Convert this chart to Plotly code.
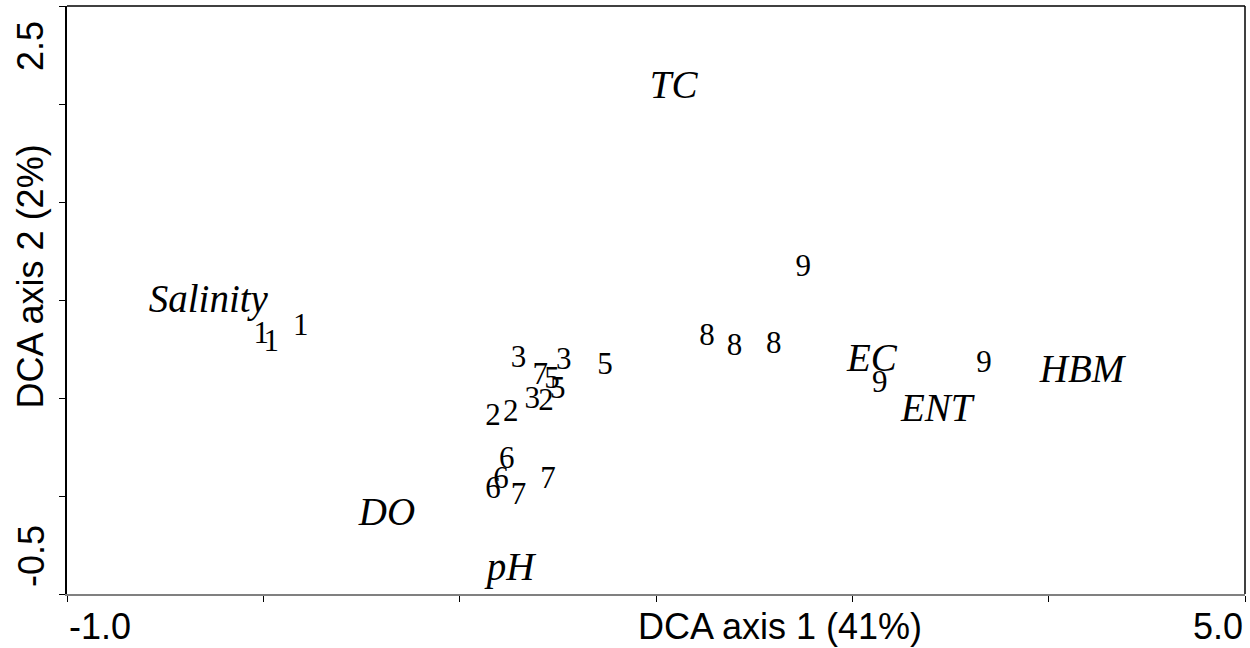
import plotly.graph_objects as go

# Sample scores (site number shown as the marker label)
sample_labels = ["1", "1", "1",
                 "2", "2", "2",
                 "3", "3", "3",
                 "5", "5", "5",
                 "6", "6", "6",
                 "7", "7", "7",
                 "8", "8", "8",
                 "9", "9", "9"]
sample_x = [-0.01, 0.04, 0.19,
            1.17, 1.26, 1.44,
            1.30, 1.53, 1.37,
            1.74, 1.47, 1.50,
            1.24, 1.21, 1.17,
            1.41, 1.45, 1.30,
            2.26, 2.40, 2.60,
            2.75, 3.14, 3.67]
sample_y = [0.82, 0.78, 0.86,
            0.40, 0.42, 0.48,
            0.70, 0.69, 0.49,
            0.66, 0.59, 0.54,
            0.18, 0.08, 0.03,
            0.61, 0.08, 0.00,
            0.81, 0.76, 0.77,
            1.16, 0.57, 0.67]

# Environmental / bacterial variables
var_labels = ["TC", "Salinity", "EC", "ENT", "HBM", "DO", "pH"]
var_x = [2.09, -0.28, 3.10, 3.43, 4.17, 0.63, 1.26]
var_y = [2.08, 0.99, 0.69, 0.43, 0.63, -0.10, -0.38]

x_range = [-1.0, 5.0]
y_range = [-0.5, 2.5]
x_ticks = [-1, 0, 1, 2, 3, 4, 5]
y_ticks = [-0.5, 0.0, 0.5, 1.0, 1.5, 2.0, 2.5]
x_title = "DCA axis 1 (41%)"
y_title = "DCA axis 2 (2%)"

serif = "Liberation Serif, Times New Roman, serif"
sans = "Liberation Sans, Arial, sans-serif"

fig = go.Figure()
fig.add_trace(go.Scatter(
    x=sample_x, y=sample_y, text=sample_labels, mode="text",
    textposition="middle center",
    textfont=dict(family=serif, size=31, color="black"),
    hoverinfo="skip", showlegend=False,
))
fig.add_trace(go.Scatter(
    x=var_x, y=var_y, text=var_labels, mode="text",
    textposition="middle center",
    textfont=dict(family=serif, size=39, color="black", style="italic"),
    hoverinfo="skip", showlegend=False,
))

fig.update_xaxes(
    range=x_range, tickvals=x_ticks, showticklabels=False,
    ticks="outside", ticklen=6, tickwidth=1, tickcolor="black",
    showline=True, linecolor="#808080", linewidth=2,
    showgrid=False, zeroline=False,
)
fig.update_yaxes(
    range=y_range, tickvals=y_ticks, showticklabels=False,
    ticks="outside", ticklen=6, tickwidth=1, tickcolor="black",
    showline=True, linecolor="black", linewidth=1.5,
    showgrid=False, zeroline=False,
)

# Top and right frame lines
fig.add_shape(type="line", xref="paper", yref="paper", x0=0, x1=1, y0=1, y1=1,
              line=dict(color="black", width=1.5))
fig.add_shape(type="line", xref="paper", yref="paper", x0=1, x1=1, y0=0, y1=1,
              line=dict(color="black", width=1.5))

tick_font = dict(family=sans, size=36, color="black")
annotations = [
    # x-axis end labels and title
    dict(text="-1.0", x=0, y=-0.056, xref="paper", yref="paper",
         xanchor="left", yanchor="middle", showarrow=False, font=tick_font),
    dict(text="5.0", x=1, y=-0.056, xref="paper", yref="paper",
         xanchor="right", yanchor="middle", showarrow=False, font=tick_font),
    dict(text=x_title, x=0.6053, y=-0.056, xref="paper", yref="paper",
         xanchor="center", yanchor="middle", showarrow=False, font=tick_font),
    # y-axis end labels and title (rotated)
    dict(text="2.5", x=-0.0306, y=0.932, xref="paper", yref="paper",
         xanchor="center", yanchor="middle", textangle=-90, showarrow=False,
         font=tick_font),
    dict(text="-0.5", x=-0.0306, y=0.0646, xref="paper", yref="paper",
         xanchor="center", yanchor="middle", textangle=-90, showarrow=False,
         font=tick_font),
    dict(text=y_title, x=-0.0306, y=0.54, xref="paper", yref="paper",
         xanchor="center", yanchor="middle", textangle=-90, showarrow=False,
         font=tick_font),
]

fig.update_layout(
    width=1250, height=648,
    margin=dict(l=67, r=5, t=6, b=54),
    paper_bgcolor="white", plot_bgcolor="white",
    annotations=annotations,
)

fig.write_html("out.html")
